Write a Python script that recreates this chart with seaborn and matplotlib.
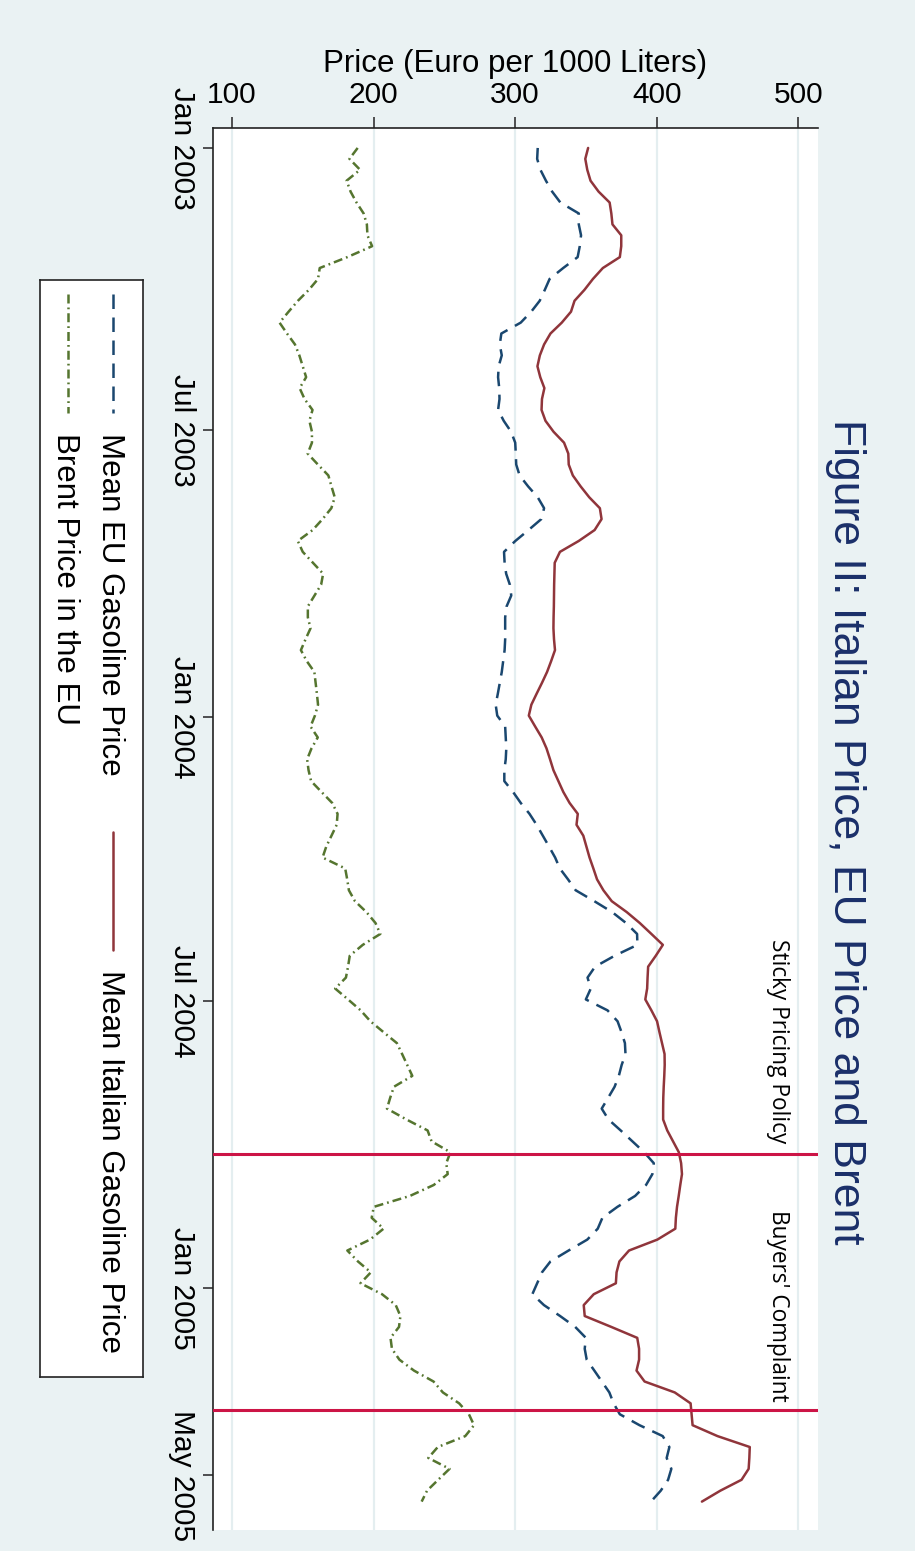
import pandas as pd
import numpy as np
import matplotlib
matplotlib.use("Agg")
import matplotlib.pyplot as plt
import seaborn as sns

# weekly observations, Jan 2003 - May 2005
weeks = pd.date_range("2003-01-01", periods=125, freq="7D")

# Mean Italian gasoline price (Euro per 1000 l)
italy = [351.6, 349.6, 351.0, 353.3, 359.0, 366.8, 368.0, 368.8, 375.0, 375.0,
         374.0, 362.0, 355.0, 349.0, 342.0, 339.5, 333.0, 325.0, 320.5, 317.5,
         315.8, 317.8, 320.7, 319.0, 318.7, 321.5, 327.2, 334.6, 337.6, 337.9,
         340.8, 346.3, 352.4, 359.9, 361.1, 356.2, 345.0, 331.7, 328.0, 327.8,
         327.6, 327.5, 327.4, 327.2, 327.1, 327.5, 328.2, 325.5, 322.6, 319.0,
         315.2, 311.5, 309.7, 314.2, 318.8, 322.2, 324.7, 327.1, 330.6, 334.1,
         338.5, 344.3, 343.4, 348.2, 350.4, 352.6, 355.3, 357.9, 362.4, 368.3,
         378.9, 388.1, 396.3, 404.4, 399.4, 394.0, 393.6, 393.3, 392.0, 396.3,
         400.3, 402.0, 403.8, 405.6, 405.7, 405.4, 405.0, 404.7, 404.6, 404.6,
         407.5, 411.6, 415.7, 417.3, 417.9, 416.7, 415.6, 414.4, 413.6, 413.2,
         400.5, 380.5, 373.7, 371.7, 371.2, 355.6, 348.5, 349.2, 368.0, 386.3,
         387.6, 387.6, 385.8, 391.5, 412.8, 424.0, 424.7, 425.4, 443.0, 465.8,
         465.5, 465.0, 460.0, 445.0, 432.0]

# Mean EU gasoline price
eu = [316.0, 315.6, 317.9, 321.8, 326.2, 332.0, 345.0, 345.0, 346.6, 345.7,
      344.2, 334.0, 324.4, 321.0, 317.4, 311.4, 304.0, 290.3, 289.2, 290.6,
      288.4, 288.0, 288.8, 289.0, 288.0, 292.0, 297.2, 300.1, 300.5, 300.8,
      303.2, 309.2, 316.0, 320.5, 318.5, 309.5, 300.2, 292.2, 292.6, 293.7,
      296.3, 297.3, 294.0, 293.0, 293.0, 293.0, 292.6, 291.6, 290.6, 289.2,
      287.8, 286.3, 287.4, 293.0, 293.4, 293.8, 293.4, 292.4, 292.4, 298.6,
      304.0, 310.2, 315.2, 319.6, 324.0, 328.3, 331.6, 337.4, 342.8, 356.0,
      368.6, 378.4, 386.2, 386.4, 370.3, 356.5, 351.2, 353.5, 350.0, 365.3,
      372.4, 375.2, 377.6, 378.0, 375.3, 373.3, 370.3, 365.8, 361.2, 366.0,
      374.6, 382.9, 391.2, 398.0, 397.0, 392.5, 384.8, 372.3, 361.7, 358.4,
      351.0, 337.8, 325.0, 319.0, 315.6, 312.2, 320.4, 331.8, 342.5, 350.0,
      349.2, 350.6, 356.0, 361.3, 366.6, 369.6, 374.0, 387.9, 404.3, 409.0,
      407.1, 410.4, 408.1, 402.9, 396.0]

# Brent price in the EU
brent = [188.8, 183.0, 190.5, 181.0, 183.8, 188.0, 193.0, 195.3, 195.7, 199.0,
         181.5, 162.0, 160.8, 154.3, 146.6, 140.0, 133.6, 138.9, 144.5, 147.6,
         150.0, 152.4, 147.8, 151.3, 156.9, 154.7, 156.5, 156.5, 153.5, 160.7,
         168.1, 170.3, 172.6, 170.2, 164.0, 157.0, 146.5, 150.0, 157.2, 164.4,
         163.0, 158.3, 153.6, 153.6, 155.5, 152.0, 148.7, 152.8, 158.2, 159.1,
         160.0, 160.8, 158.6, 155.5, 160.6, 156.2, 153.1, 154.1, 155.9, 163.3,
         170.8, 174.6, 174.0, 170.3, 166.6, 164.0, 180.0, 181.4, 182.6, 186.9,
         195.0, 201.4, 204.8, 192.4, 183.2, 182.0, 180.5, 172.9, 182.0, 190.9,
         197.8, 207.1, 216.5, 220.2, 223.8, 227.4, 214.4, 211.8, 209.5, 223.3,
         238.2, 241.0, 254.3, 251.4, 252.4, 242.5, 225.7, 200.2, 198.7, 207.1,
         197.5, 181.5, 189.0, 198.1, 190.8, 206.0, 215.7, 219.0, 218.0, 212.0,
         213.0, 218.3, 228.6, 242.4, 249.0, 260.5, 267.4, 271.0, 264.8, 245.4,
         238.7, 253.7, 245.7, 237.8, 234.0]

events = pd.to_datetime(["2004-10-07", "2005-03-20"])
event_labels = ["Sticky Pricing Policy", "Buyers' Complaint"]
event_label_ends = pd.to_datetime(["2004-09-30", "2005-03-15"])

date_ticks = pd.to_datetime(["2003-01-01", "2003-07-01", "2004-01-01",
                             "2004-07-01", "2005-01-01", "2005-05-01"])
date_labels = ["Jan 2003", "Jul 2003", "Jan 2004", "Jul 2004", "Jan 2005", "May 2005"]
price_ticks = [100, 200, 300, 400, 500]

df = pd.DataFrame({"week": weeks, "Italy": italy, "EU": eu, "Brent": brent})

c_it, c_eu, c_br = "#90353b", "#1a476f", "#55752f"
c_event = "#cc1446"
bg = "#eaf2f3"
ls_eu = (0, (5.8, 3.4))
ls_br = (0, (3.6, 1.6, 0.7, 1.6))

sns.set_theme(style="white")
plt.rcParams["font.family"] = ["Liberation Sans", "DejaVu Sans"]
plt.rcParams["text.color"] = "black"
plt.rcParams["axes.labelcolor"] = "black"

fig = plt.figure(figsize=(9.15, 15.51), dpi=100, facecolor=bg)
ax = fig.add_axes([213 / 915, 1 - 1530 / 1551, 605 / 915, 1402 / 1551])
ax.set_facecolor("white")

sns.lineplot(data=df, x="EU", y="week", orient="y", estimator=None, ax=ax,
             color=c_eu, lw=1.8, linestyle=ls_eu)
sns.lineplot(data=df, x="Brent", y="week", orient="y", estimator=None, ax=ax,
             color=c_br, lw=1.8, linestyle=ls_br)
sns.lineplot(data=df, x="Italy", y="week", orient="y", estimator=None, ax=ax,
             color=c_it, lw=1.8)

for d in events:
    ax.axhline(d, color=c_event, lw=2.2, zorder=3)
for lab, d in zip(event_labels, event_label_ends):
    ax.text(486, d, lab, rotation=-90, ha="center", va="bottom",
            fontsize=16.3, family=["Open Sans", "DejaVu Sans"], color="black")

ax.set_xlim(86.6, 514)
ax.set_ylim(pd.Timestamp("2005-06-05 05:00"), pd.Timestamp("2002-12-19 05:00"))

ax.xaxis.tick_top()
ax.xaxis.set_label_position("top")
ax.set_xticks(price_ticks)
ax.set_xticklabels([str(p) for p in price_ticks], fontsize=21.5)
ax.set_xlabel("Price (Euro per 1000 Liters)", fontsize=22.5, labelpad=6)
ax.set_yticks(date_ticks)
ax.set_yticklabels(date_labels, rotation=-90, va="center", fontsize=21.5)
ax.set_ylabel("")
ax.xaxis.grid(True, color="#e4eef0", lw=1.6)
ax.yaxis.grid(False)
ax.set_axisbelow(True)
ax.tick_params(axis="x", length=8, width=1.2, color="#333333", labelcolor="black",
               pad=6, top=True, bottom=False)
ax.tick_params(axis="y", length=7, width=1.2, color="#333333", labelcolor="black",
               pad=5, left=True)
for s in ["right", "bottom"]:
    ax.spines[s].set_visible(False)
for s in ["left", "top"]:
    ax.spines[s].set_color("#222222")
    ax.spines[s].set_linewidth(1.2)

fig.text(845 / 915, 1 - 832 / 1551, "Figure II: Italian Price, EU Price and Brent",
         rotation=-90, ha="center", va="center", fontsize=32, color="#1a2f69")

# legend drawn by hand, because the text runs top to bottom
lax = fig.add_axes([40 / 915, 1 - 1377 / 1551, 103 / 915, 1097 / 1551])
lax.set_xlim(40, 143)
lax.set_ylim(1377, 280)
lax.set_facecolor("white")
lax.set_xticks([])
lax.set_yticks([])
for s in lax.spines.values():
    s.set_color("#222222")
    s.set_linewidth(1.2)

entries = [
    ("Mean EU Gasoline Price", c_eu, ls_eu, 113, 294, 413, 110, 433),
    ("Brent Price in the EU", c_br, ls_br, 68, 294, 413, 65, 433),
    ("Mean Italian Gasoline Price", c_it, "-", 113, 832, 950, 110, 970),
]
for lab, col, ls, kx, ky0, ky1, tx, ty in entries:
    lax.plot([kx, kx], [ky0, ky1], color=col, lw=1.8, linestyle=ls)
    lax.text(tx, ty, lab, rotation=-90, ha="center", va="top", fontsize=22.5, color="black")

fig.savefig("out.png", dpi=100, facecolor=fig.get_facecolor())
